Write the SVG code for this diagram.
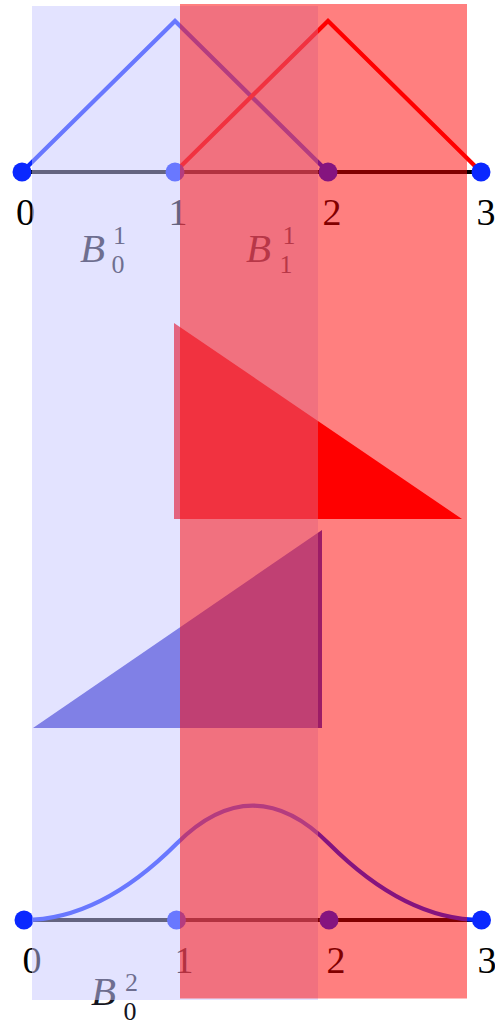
<svg xmlns="http://www.w3.org/2000/svg" width="495" height="1020" viewBox="0 0 495 1020">
<style>
.axis{stroke:#000;stroke-width:4.2;fill:none}
.bl{stroke:#0a28ff;stroke-width:4.2;fill:none;stroke-linejoin:miter}
.rl{stroke:#ff0000;stroke-width:4.2;fill:none}
.dot{fill:#0a28ff}
.num{font-family:"Liberation Serif","DejaVu Serif",serif;font-size:38px;fill:#000;text-anchor:middle}
.bB{font-family:"Liberation Serif","DejaVu Serif",serif;font-size:41px;font-style:italic;fill:#141420}
.sc{font-family:"Liberation Serif","DejaVu Serif",serif;font-size:26px;fill:#141420;text-anchor:middle}
</style>
<rect width="495" height="1020" fill="#fff"/>
<g id="top-plot">
  <line class="axis" x1="22" y1="172" x2="481" y2="172"/>
  <polyline class="bl" points="22,172 175,21 328,172"/>
  <polyline class="rl" points="175,172 328,21 481,172"/>
  <circle class="dot" cx="22" cy="172" r="9.5"/>
  <circle class="dot" cx="175" cy="172" r="9.5"/>
  <circle class="dot" cx="328" cy="172" r="9.5"/>
  <circle class="dot" cx="481" cy="172" r="9.5"/>
  <text class="num" x="25.5" y="225">0</text>
  <text class="num" x="178" y="225">1</text>
  <text class="num" x="332" y="225">2</text>
  <text class="num" x="486" y="225">3</text>
  <text class="bB" x="80" y="262">B</text>
  <text class="sc" x="119.5" y="244">1</text>
  <text class="sc" x="118" y="273">0</text>
  <text class="bB" x="246" y="261.5">B</text>
  <text class="sc" x="289" y="244">1</text>
  <text class="sc" x="286" y="273">1</text>
</g>
<g id="triangles">
  <polygon id="red-tri" points="174,323 174,519 462,519" fill="#ff0000"/>
  <polygon id="blue-tri" points="33,728 322,728 322,530" fill="#3838cc"/>
</g>
<g id="bottom-plot">
  <line class="axis" x1="24" y1="920" x2="481.5" y2="920"/>
  <path class="bl" d="M24,920 Q100.25,920 176.5,843.75 Q252.75,767.5 329,843.75 Q405.25,920 481.5,920"/>
  <circle class="dot" cx="24" cy="920" r="9.5"/>
  <circle class="dot" cx="176.5" cy="920" r="9.5"/>
  <circle class="dot" cx="329" cy="920" r="9.5"/>
  <circle class="dot" cx="481.5" cy="920" r="9.5"/>
  <text class="num" x="32" y="973">0</text>
  <text class="num" x="184" y="973">1</text>
  <text class="num" x="336" y="973">2</text>
  <text class="num" x="487" y="973">3</text>
  <text class="bB" x="91" y="1005">B</text>
  <text class="sc" x="131.5" y="991">2</text>
  <text class="sc" x="130" y="1020">0</text>
</g>
<g id="shading">
  <rect id="blue-band" x="32" y="6" width="286" height="994" fill="#c8c8ff" fill-opacity="0.5"/>
  <rect id="red-band" x="180" y="4" width="287" height="994.5" fill="#ff0000" fill-opacity="0.5"/>
</g>
</svg>
